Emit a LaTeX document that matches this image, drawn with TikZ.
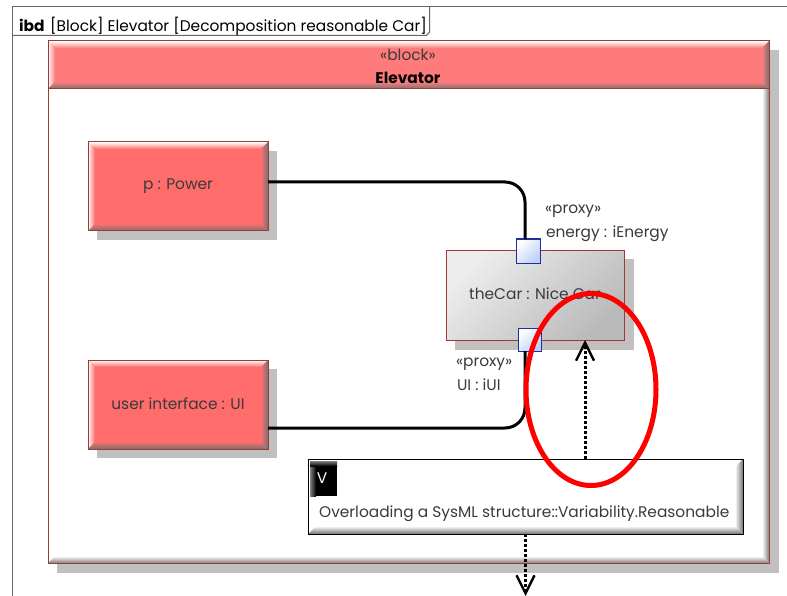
\documentclass[tikz,border=0pt]{standalone}
\usepackage{fontspec}
\setmainfont{Poppins}
\usetikzlibrary{arrows.meta,shapes.geometric}
\definecolor{blockred}{HTML}{FF6C6C}
\definecolor{headred}{HTML}{FF7B7B}
\definecolor{edgered}{HTML}{9C3A3A}
\definecolor{shadowgray}{HTML}{C0C0C0}
\definecolor{txt}{HTML}{3A3A3A}
\definecolor{portblue}{HTML}{1F2F9F}
\definecolor{portfill}{HTML}{BDD0F8}
\newcommand{\fs}{\fontsize{15.4}{17}\selectfont}
\newcommand{\bevelbox}[6]{% x1 y1 x2 y2 w base
  \begin{scope}\clip (#1,#2) -- (#3,#2) -- (#3-#5,#2+#5) -- (#1+#5,#2+#5) -- cycle;
    \shade[top color=white,bottom color=#6] (#1,#2) rectangle (#3,#2+#5);\end{scope}
  \begin{scope}\clip (#1,#2) -- (#1,#4) -- (#1+#5,#4-#5) -- (#1+#5,#2+#5) -- cycle;
    \shade[left color=white,right color=#6] (#1,#2) rectangle (#1+#5,#4);\end{scope}
  \begin{scope}\clip (#3,#2) -- (#3,#4) -- (#3-#5,#4-#5) -- (#3-#5,#2+#5) -- cycle;
    \shade[left color=#6,right color=black!55] (#3-#5,#2) rectangle (#3,#4);\end{scope}
  \begin{scope}\clip (#1,#4) -- (#3,#4) -- (#3-#5,#4-#5) -- (#1+#5,#4-#5) -- cycle;
    \shade[top color=#6,bottom color=black!55] (#1,#4-#5) rectangle (#3,#4);\end{scope}}
\tikzset{
  x=1pt,y=-1pt,
  label text/.style={text=txt,inner sep=0pt,outer sep=0pt,font=\fs},
  partbox/.style={rectangle,minimum width=180pt,minimum height=89pt,inner sep=0pt,outer sep=0pt,fill=blockred,text=txt,font=\fs},
  portbox/.style={rectangle,minimum width=24pt,minimum height=24pt,inner sep=0pt,outer sep=0pt,draw=portblue,line width=1pt,top color=white,bottom color=portfill,shading angle=45},
  wire/.style={line width=3pt,black,rounded corners=20pt},
  realize/.style={line width=3pt,black,dash pattern=on 3pt off 2pt,-{Straight Barb[length=18pt,width=18pt,line width=2.4pt]}},
  framelines/.style={draw=black!60,line width=1pt}
}
\begin{document}
\begin{tikzpicture}
\useasboundingbox (0,0) rectangle (787,596);
\fill[white] (0,0) rectangle (787,596);
% diagram frame
\draw[framelines] (787,6.5) -- (12.5,6.5) -- (12.5,596);
\draw[framelines] (429.5,6.5) -- (429.5,32) -- (426.5,35.5) -- (12.5,35.5);
\node[anchor=west,inner sep=0pt,font=\fs\bfseries] (ibd) at (19,25) {ibd};
\node[anchor=west,inner sep=0pt,font=\fs] (title) at (50,26) {[Block] Elevator [Decomposition reasonable Car]};
% Elevator block
\fill[shadowgray] (57,50) rectangle (779,573);
\fill[white] (48,41) rectangle (769,563);
\fill[headred] (48,41) rectangle (769,89);
\bevelbox{48}{41}{769}{89}{7}{headred}
\begin{scope}\clip (769,89) -- (769,563) -- (762,556) -- (762,89) -- cycle;
  \shade[left color=white,right color=black!50] (762,89) rectangle (769,563);\end{scope}
\begin{scope}\clip (48,563) -- (769,563) -- (762,556) -- (55,556) -- cycle;
  \shade[top color=white,bottom color=black!50] (48,556) rectangle (769,563);\end{scope}
\draw[edgered,line width=1pt] (48,41) rectangle (769,563);
\draw[edgered,line width=1pt] (48,89) -- (769,89);
\node[label text] (stereo) at (408,55) {«block»};
\node[label text,text=black,font=\fs\bfseries] (elev) at (408,78) {Elevator};
% p : Power
\fill[shadowgray] (97,151) rectangle (277,240);
\node[partbox] (p) at (178,186.5) {\raisebox{-1pt}{p : Power}};
\bevelbox{88}{142}{268}{231}{7}{blockred}
\draw[edgered,line width=1pt] (p.north west) rectangle (p.south east);
% user interface : UI
\fill[shadowgray] (97,369) rectangle (277,458);
\node[partbox] (ui) at (178,404.5) {\raisebox{2pt}{user interface : UI}};
\bevelbox{88}{360}{268}{449}{7}{blockred}
\draw[edgered,line width=1pt] (ui.north west) rectangle (ui.south east);
% theCar
\fill[shadowgray] (455,259) rectangle (634,350);
\node[rectangle,minimum width=178pt,minimum height=90pt,inner sep=0pt,outer sep=0pt,draw=edgered,line width=1pt,top color=black!7,bottom color=black!27,shading angle=45,text=txt,font=\fs] (car) at (535,295) {\raisebox{2pt}{theCar : Nice Car}};
% connectors
\node[portbox] (pe) at (528,251) {};
\node[portbox,minimum width=23pt,minimum height=23pt] (pu) at (529.5,339.5) {};
\draw[wire] ([yshift=4.5pt]p.east) -| ([xshift=-3pt]pe.north);
\draw[wire] ([yshift=-23.5pt]ui.east) -| ([xshift=-4.5pt]pu.south);
\node[label text,anchor=west] (s1) at (545,211) {«proxy»};
\node[label text,anchor=west] (e1) at (546,234) {energy : iEnergy};
\node[label text,anchor=west] (s2) at (456,364) {«proxy»};
\node[label text,anchor=west] (e2) at (457,385) {UI : iUI};
% note
\fill[white] (308,459) rectangle (743,534);
\node[rectangle,minimum width=435pt,minimum height=75pt,inner sep=0pt,outer sep=0pt] (note) at (525.5,496.5) {};
\begin{scope}\clip (743,459) -- (743,534) -- (735,526) -- (735,467) -- cycle;
  \shade[left color=white,right color=black!55] (735,459) rectangle (743,534);\end{scope}
\begin{scope}\clip (308,534) -- (743,534) -- (735,526) -- (316,526) -- cycle;
  \shade[top color=white,bottom color=black!55] (308,526) rectangle (743,534);\end{scope}
\draw[black,line width=1pt] (note.north west) rectangle (note.south east);
\fill[black] (310,461) rectangle (337,496);
\shade[left color=black!50,right color=black] (310,461) rectangle (316,496);
\shade[top color=black!50,bottom color=black] (310,461) rectangle (337,466);
\node[inner sep=0pt,text=white,font=\fs] (vtag) at (322,478) {V};
\node[inner sep=0pt,anchor=west,text=txt,font=\fs] (ntext) at (319,514) {Overloading a SysML structure::Variability.Reasonable};
% dependencies
\coordinate (down) at (525.5,596);
\draw[realize] ([xshift=59.5pt]note.north) -- ([xshift=50pt]car.south);
\draw[realize] (note.south) -- (down);
% red ellipse
\node[ellipse,draw=red,line width=5pt,minimum width=130pt,minimum height=192pt,inner sep=0pt] (ring) at (591,389.5) {};
\end{tikzpicture}
\end{document}
